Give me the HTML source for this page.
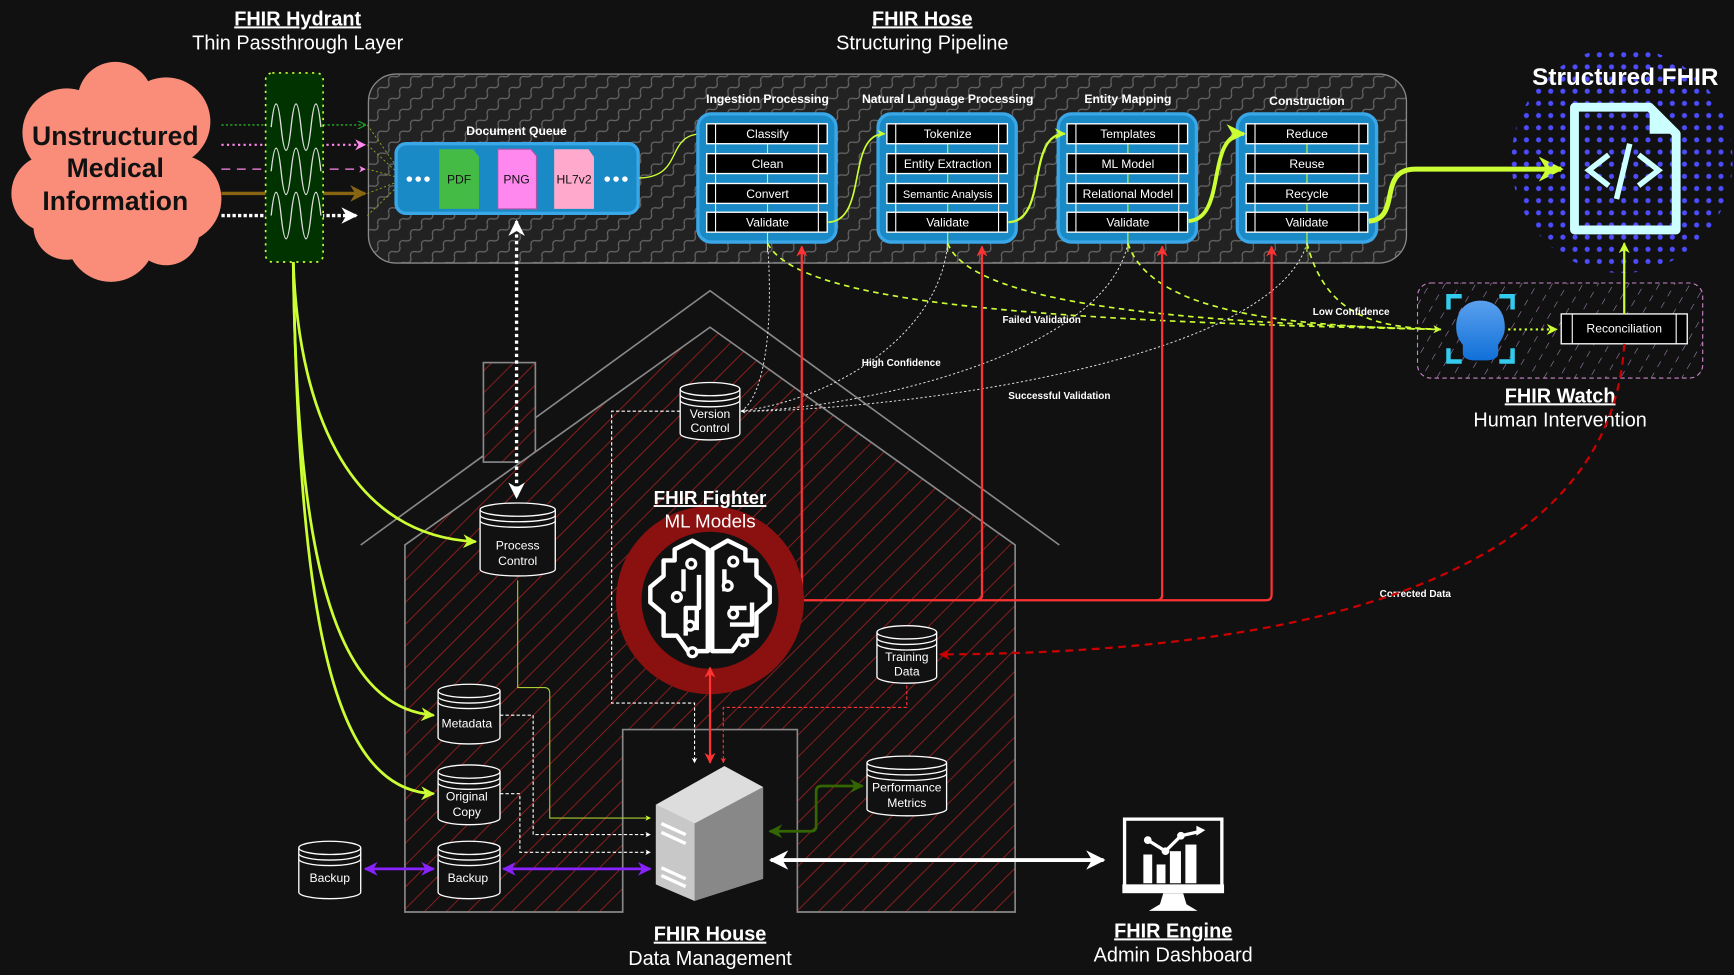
<!DOCTYPE html>
<html><head><meta charset="utf-8"><style>
html,body{margin:0;padding:0;background:#111;}
svg{display:block;}
text{font-family:"Liberation Sans",sans-serif;}
</style></head><body>
<svg width="1734" height="975" viewBox="0 0 1568 882" xmlns="http://www.w3.org/2000/svg">
<defs>
<pattern id="zig" width="14" height="14" patternUnits="userSpaceOnUse" patternTransform="rotate(-45)">
<rect width="14" height="14" fill="#222"/>
<path d="M0,7 q3.5,-5 7,0 t7,0" fill="none" stroke="#666" stroke-width="1.2"/>
</pattern>
<pattern id="hatch" width="14" height="14" patternUnits="userSpaceOnUse" patternTransform="rotate(45)">
<rect width="14" height="14" fill="#111"/>
<line x1="0" y1="0" x2="0" y2="14" stroke="#a02020" stroke-width="1.5"/>
</pattern>
<pattern id="hatchp" width="12" height="12" patternUnits="userSpaceOnUse" patternTransform="rotate(30)">
<rect width="12" height="12" fill="#111"/>
<line x1="0" y1="0" x2="0" y2="6" stroke="#aa88bb" stroke-width="1"/>
</pattern>
<pattern id="dots" width="11" height="11" patternUnits="userSpaceOnUse">
<circle cx="5.5" cy="5.5" r="2.3" fill="#4d4dff"/>
</pattern>
<linearGradient id="hg" x1="0" y1="0" x2="0" y2="1"><stop offset="0" stop-color="#5aa0ee"/><stop offset="1" stop-color="#1070d8"/></linearGradient>
<marker id="ag" viewBox="0 0 10 10" refX="9" refY="5" markerWidth="5" markerHeight="5" orient="auto-start-reverse"><path d="M0,0 L10,5 L0,10 L3,5Z" fill="#ccff33"/></marker>
<marker id="aw" viewBox="0 0 10 10" refX="9" refY="5" markerWidth="5" markerHeight="5" orient="auto-start-reverse"><path d="M0,0 L10,5 L0,10 L3,5Z" fill="#fff"/></marker>
<marker id="ar" viewBox="0 0 10 10" refX="9" refY="5" markerWidth="5" markerHeight="5" orient="auto-start-reverse"><path d="M0,0 L10,5 L0,10 L3,5Z" fill="#ff3333"/></marker>
<marker id="adr" viewBox="0 0 10 10" refX="9" refY="5" markerWidth="5" markerHeight="5" orient="auto-start-reverse"><path d="M0,0 L10,5 L0,10 L3,5Z" fill="#cc0000"/></marker>
<marker id="ap" viewBox="0 0 10 10" refX="9" refY="5" markerWidth="5" markerHeight="5" orient="auto-start-reverse"><path d="M0,0 L10,5 L0,10 L3,5Z" fill="#8822ff"/></marker>
<marker id="adg" viewBox="0 0 10 10" refX="9" refY="5" markerWidth="5" markerHeight="5" orient="auto-start-reverse"><path d="M0,0 L10,5 L0,10 L3,5Z" fill="#336600"/></marker>
<marker id="apk" viewBox="0 0 10 10" refX="9" refY="5" markerWidth="5" markerHeight="5" orient="auto"><path d="M0,0 L10,5 L0,10 L3,5Z" fill="#ff88ee"/></marker>
<marker id="abr" viewBox="0 0 10 10" refX="9" refY="5" markerWidth="5" markerHeight="5" orient="auto"><path d="M0,0 L10,5 L0,10 L3,5Z" fill="#886611"/></marker>
<marker id="agd" viewBox="0 0 10 10" refX="9" refY="5" markerWidth="5" markerHeight="5" orient="auto"><path d="M0,0 L10,5 L0,10" fill="none" stroke="#229922" stroke-width="1.5"/></marker>
</defs>
<rect width="1568" height="882" fill="#111"/>

<g fill="#fff" text-anchor="middle" font-size="18">
<text x="269" y="23" font-weight="bold" text-decoration="underline">FHIR Hydrant</text>
<text x="269" y="45">Thin Passthrough Layer</text>
<text x="834" y="23" font-weight="bold" text-decoration="underline">FHIR Hose</text>
<text x="834" y="45">Structuring Pipeline</text>
<text x="1411" y="364" font-weight="bold" text-decoration="underline">FHIR Watch</text>
<text x="1411" y="386">Human Intervention</text>
<text x="642" y="851" font-weight="bold" text-decoration="underline">FHIR House</text>
<text x="642" y="873">Data Management</text>
<text x="1061" y="848" font-weight="bold" text-decoration="underline">FHIR Engine</text>
<text x="1061" y="870">Admin Dashboard</text>
</g>

<g fill="#fa8d7a">
<circle cx="104" cy="90" r="34"/><circle cx="150" cy="110" r="40"/><circle cx="60" cy="120" r="40"/>
<circle cx="104" cy="155" r="70"/><circle cx="45" cy="175" r="35"/><circle cx="160" cy="180" r="40"/>
<circle cx="100" cy="215" r="40"/><circle cx="150" cy="210" r="30"/><circle cx="60" cy="205" r="30"/>
</g>
<g fill="#111" font-weight="bold" font-size="24" text-anchor="middle">
<text x="104" y="131">Unstructured</text><text x="104" y="160">Medical</text><text x="104" y="190">Information</text>
</g>

<rect x="333" y="67" width="939" height="171" rx="25" fill="url(#zig)" stroke="#888" stroke-width="1.2"/>

<line x1="200" y1="113" x2="330" y2="113" stroke="#229922" stroke-width="1.5" stroke-dasharray="2,2" marker-end="url(#agd)"/>
<line x1="200" y1="131" x2="330" y2="131" stroke="#ff88ee" stroke-width="2" stroke-dasharray="2,3" marker-end="url(#apk)"/>
<line x1="200" y1="153" x2="330" y2="153" stroke="#ff88ee" stroke-width="1.2" stroke-dasharray="8,6" marker-end="url(#apk)"/>
<line x1="200" y1="175" x2="330" y2="175" stroke="#886611" stroke-width="3" marker-end="url(#abr)"/>
<line x1="200" y1="195" x2="322" y2="195" stroke="#fff" stroke-width="3" stroke-dasharray="3,2" marker-end="url(#aw)"/>
<path d="M332,113 L358,150 M332,131 L358,155 M332,153 L358,160 M332,175 L358,165 M332,195 L358,170" stroke="#88aa22" stroke-width="0.8" stroke-dasharray="2,2" fill="none"/>

<rect x="240" y="66" width="52" height="171" rx="6" fill="#003300" stroke="#ccff33" stroke-width="1.5" stroke-dasharray="2,4"/>
<g fill="none" stroke="#ddd" stroke-width="1.2">
<path d="M245,115 q4.5,-42 9,0 t9,0 t9,0 t9,0 t9,0"/>
<path d="M245,155 q4.5,-42 9,0 t9,0 t9,0 t9,0 t9,0"/>
<path d="M245,195 q4.5,-42 9,0 t9,0 t9,0 t9,0 t9,0"/>
</g>

<text x="467" y="122" fill="#fff" font-size="11" font-weight="bold" text-anchor="middle">Document Queue</text>
<rect x="358" y="130" width="219" height="63" rx="9" fill="#1a8ac6" stroke="#3aa7e8" stroke-width="3"/>
<path d="M397,135 h31 l5,7 v47 h-36Z" fill="#44bb44"/>
<path d="M450,135 h30 l5,6 v48 h-35Z" fill="#ff88ee" stroke="#aa55aa"/>
<path d="M501,135 h31 l5,7 v47 h-36Z" fill="#ffaacc"/>
<g font-size="11" fill="#111" text-anchor="middle"><text x="415" y="166">PDF</text><text x="467" y="166">PNG</text><text x="519" y="166">HL7v2</text></g>
<g fill="#fff"><circle cx="370" cy="162" r="2.5"/><circle cx="378" cy="162" r="2.5"/><circle cx="386" cy="162" r="2.5"/>
<circle cx="549" cy="162" r="2.5"/><circle cx="557" cy="162" r="2.5"/><circle cx="565" cy="162" r="2.5"/></g>
<path d="M578,161 C620,160 600,120 637,121" stroke="#ccff33" stroke-width="1.2" fill="none" marker-end="url(#ag)"/>

<g font-size="11" font-weight="bold" fill="#fff" text-anchor="middle">
<text x="694" y="93">Ingestion Processing</text>
<text x="857" y="93">Natural Language Processing</text>
<text x="1020" y="93">Entity Mapping</text>
<text x="1182" y="95">Construction</text>
</g>
<g stroke-width="3">
<rect x="631" y="103" width="125" height="116" rx="12" fill="#1a8ac6" stroke="#3aa7e8"/>
<rect x="794" y="103" width="125" height="116" rx="12" fill="#1a8ac6" stroke="#3aa7e8"/>
<rect x="957" y="103" width="125" height="116" rx="12" fill="#1a8ac6" stroke="#3aa7e8"/>
<rect x="1119" y="103" width="126" height="116" rx="12" fill="#1a8ac6" stroke="#3aa7e8"/>
</g>
<g stroke="#ccff33" stroke-width="1">
<line x1="694" y1="130" x2="694" y2="228"/><line x1="857" y1="130" x2="857" y2="228"/><line x1="1020" y1="130" x2="1020" y2="228"/><line x1="1182" y1="130" x2="1182" y2="228"/>
</g>
<g fill="#000" stroke="#fff" stroke-width="1.2">
<rect x="639" y="112" width="109" height="18"/><rect x="639" y="139" width="109" height="18"/><rect x="639" y="166" width="109" height="18"/><rect x="639" y="192" width="109" height="18"/>
<rect x="802" y="112" width="109" height="18"/><rect x="802" y="139" width="109" height="18"/><rect x="802" y="166" width="109" height="18"/><rect x="802" y="192" width="109" height="18"/>
<rect x="965" y="112" width="109" height="18"/><rect x="965" y="139" width="109" height="18"/><rect x="965" y="166" width="109" height="18"/><rect x="965" y="192" width="109" height="18"/>
<rect x="1127" y="112" width="110" height="18"/><rect x="1127" y="139" width="110" height="18"/><rect x="1127" y="166" width="110" height="18"/><rect x="1127" y="192" width="110" height="18"/>
</g>
<g stroke="#fff" stroke-width="1">
<path d="M647,112v98M740,112v98M810,112v98M903,112v98M973,112v98M1066,112v98M1135,112v98M1229,112v98"/>
</g>
<g font-size="11" fill="#fff" text-anchor="middle">
<text x="694" y="125">Classify</text><text x="694" y="152">Clean</text><text x="694" y="179">Convert</text><text x="694" y="205">Validate</text>
<text x="857" y="125">Tokenize</text><text x="857" y="152">Entity Extraction</text><text x="857" y="179" font-size="10">Semantic Analysis</text><text x="857" y="205">Validate</text>
<text x="1020" y="125">Templates</text><text x="1020" y="152">ML Model</text><text x="1020" y="179">Relational Model</text><text x="1020" y="205">Validate</text>
<text x="1182" y="125">Reduce</text><text x="1182" y="152">Reuse</text><text x="1182" y="179">Recycle</text><text x="1182" y="205">Validate</text>
</g>
<g fill="none" stroke="#ccff33">
<path d="M749,201 C785,200 765,121 800,121" stroke-width="1.5" marker-end="url(#ag)"/>
<path d="M912,201 C948,200 928,121 963,121" stroke-width="2" marker-end="url(#ag)"/>
<path d="M1075,200 C1110,198 1090,121 1125,121" stroke-width="3.5" marker-end="url(#ag)"/>
<path d="M1238,200 C1268,198 1245,153 1280,153 L1412,153" stroke-width="4.5" marker-end="url(#ag)"/>
</g>

<ellipse cx="1467" cy="145" rx="100" ry="102" fill="url(#dots)"/>
<text x="1470" y="77" font-size="22" font-weight="bold" fill="#fff" text-anchor="middle">Structured FHIR</text>
<path d="M1424,97 h68 l24,24 v87 h-92Z" fill="none" stroke="#ccffff" stroke-width="8" stroke-linejoin="round"/>
<path d="M1492,97 v24 h24" fill="#ccffff"/>
<g stroke="#ccffff" stroke-width="5" fill="none"><path d="M1455,140 l-18,14 18,14"/><path d="M1482,140 l18,14 -18,14"/><path d="M1474,130 l-12,50"/></g>

<rect x="1282" y="256" width="258" height="86" rx="12" fill="url(#hatchp)" stroke="#cc88cc" stroke-width="1" stroke-dasharray="4,3"/>
<g stroke="#33ccee" stroke-width="4" fill="none">
<path d="M1310,280 v-12 h12 M1356,268 h12 v12 M1310,315 v12 h12 M1368,315 v12 h-12"/></g>
<path d="M1339,272 c14,0 22,10 22,24 c0,8 -4,12 -6,16 v8 c0,4 -6,6 -10,6 h-12 c-4,0 -10,-2 -10,-6 v-8 c-3,-4 -6,-8 -6,-16 c0,-14 8,-24 22,-24Z" fill="url(#hg)"/>
<line x1="1364" y1="298" x2="1408" y2="298" stroke="#ccff33" stroke-width="2" stroke-dasharray="2,3" marker-end="url(#ag)"/>
<rect x="1412" y="284" width="114" height="27" fill="#000" stroke="#fff" stroke-width="1.2"/>
<path d="M1422,284v27M1516,284v27" stroke="#fff"/>
<text x="1469" y="301" font-size="11" fill="#fff" text-anchor="middle">Reconciliation</text>
<line x1="1469" y1="284" x2="1469" y2="220" stroke="#ccff33" stroke-width="2" marker-end="url(#ag)"/>

<path d="M326,493 L642,263 L958,493" fill="none" stroke="#888" stroke-width="1.5"/>
<rect x="437" y="328" width="47" height="90" fill="url(#hatch)" stroke="#888" stroke-width="1.5"/>
<path d="M366,825 V493 L642,296 L918,493 V825 H721 V660 H563 V825Z" fill="url(#hatch)" stroke="#888" stroke-width="1.5"/>

<g fill="none" stroke="#ccff33" stroke-width="1.5" stroke-dasharray="5,4">
<path d="M694,220 C720,270 900,290 1303,298" marker-end="url(#ag)"/>
<path d="M857,220 C880,280 1100,292 1303,298"/>
<path d="M1020,220 C1040,280 1150,295 1303,298"/>
<path d="M1182,220 C1200,290 1250,296 1303,298"/>
</g>
<g fill="none" stroke="#ddd" stroke-width="0.9" stroke-dasharray="2,2">
<path d="M694,220 C700,300 690,360 670,372"/>
<path d="M857,220 C850,300 760,360 670,372"/>
<path d="M1020,220 C1000,320 780,370 670,372" marker-end="url(#aw)"/>
<path d="M1182,220 C1150,330 800,372 670,372"/>
</g>
<g font-size="9" font-weight="bold" fill="#fff" text-anchor="middle">
<text x="942" y="292">Failed Validation</text><text x="1222" y="285">Low Confidence</text>
<text x="815" y="331">High Confidence</text><text x="958" y="361">Successful Validation</text>
<text x="1280" y="540">Corrected Data</text>
</g>

<path d="M1469,311 C1460,470 1300,590 850,592" fill="none" stroke="#cc0000" stroke-width="2" stroke-dasharray="7,5" marker-end="url(#adr)"/>

<g fill="none" stroke="#ff3333" stroke-width="2">
<path d="M700,543 H1145 q5,0 5,-5 V223" marker-end="url(#ar)"/>
<path d="M720,543 q5,0 5,-5 V223" marker-end="url(#ar)"/>
<path d="M883,543 q5,0 5,-5 V223" marker-end="url(#ar)"/>
<path d="M1046,543 q5,0 5,-5 V223" marker-end="url(#ar)"/>
</g>

<circle cx="642" cy="543" r="85" fill="#8b1010"/>
<circle cx="642" cy="543" r="62" fill="#111"/>
<g fill="none" stroke="#fff" stroke-width="4" stroke-linejoin="round">
<path d="M640,497 l-14,-8 -16,8 v10 h-10 v14 l-12,10 v14 l12,10 v20 h12 l10,14 h18 V497Z"/>
<path d="M644,497 l14,-8 16,8 v10 h10 v14 l12,10 v14 l-12,10 v20 h-12 l-10,14 h-18 V497Z"/>
<path d="M618,515 v20 M632,520 v30 h-12 v25 M655,515 v20 M660,550 h15 M630,550 v20 M660,565 h20 v-20"/>
</g>
<g fill="#111" stroke="#fff" stroke-width="3">
<circle cx="625" cy="510" r="4"/><circle cx="612" cy="540" r="4"/><circle cx="624" cy="566" r="4"/><circle cx="626" cy="590" r="4"/>
<circle cx="663" cy="508" r="4"/><circle cx="658" cy="530" r="4"/><circle cx="663" cy="555" r="4"/><circle cx="672" cy="580" r="4"/>
</g>
<text x="642" y="456" font-size="17" font-weight="bold" fill="#fff" text-anchor="middle" text-decoration="underline">FHIR Fighter</text>
<text x="642" y="477" font-size="17" fill="#fff" text-anchor="middle">ML Models</text>

<line x1="467" y1="200" x2="467" y2="450" stroke="#fff" stroke-width="3" stroke-dasharray="3,3" marker-start="url(#aw)" marker-end="url(#aw)"/>
<g fill="none" stroke="#ccff33" stroke-width="2.5">
<path d="M265,237 C270,380 320,485 430,490" marker-end="url(#ag)"/>
<path d="M265,237 C268,500 300,640 392,647" marker-end="url(#ag)"/>
<path d="M265,237 C270,560 300,715 392,718" marker-end="url(#ag)"/>
</g>
<path d="M468,525 V622 H492 Q497,622 497,627 V740 H588" fill="none" stroke="#aacc33" stroke-width="1" marker-end="url(#ag)"/>
<g fill="none" stroke="#fff" stroke-width="1" stroke-dasharray="3,2">
<path d="M452,647 H482 V755 H588" marker-end="url(#aw)"/>
<path d="M452,718 H470 V771 H588" marker-end="url(#aw)"/>
<path d="M615,372 H553 V636 H628 V690" marker-end="url(#aw)"/>
</g>
<path d="M820,620 V640 H654 V690" fill="none" stroke="#ff3333" stroke-width="1" stroke-dasharray="3,2" marker-end="url(#ar)"/>
<line x1="642" y1="604" x2="642" y2="690" stroke="#ff3333" stroke-width="2" marker-start="url(#ar)" marker-end="url(#ar)"/>
<path d="M696,752 H733 q5,0 5,-5 V716 q0,-5 5,-5 H780" fill="none" stroke="#336600" stroke-width="2.5" marker-start="url(#adg)" marker-end="url(#adg)"/>
<line x1="330" y1="786" x2="392" y2="786" stroke="#8822ff" stroke-width="2.5" marker-start="url(#ap)" marker-end="url(#ap)"/>
<line x1="455" y1="786" x2="588" y2="786" stroke="#8822ff" stroke-width="2.5" marker-start="url(#ap)" marker-end="url(#ap)"/>
<line x1="697" y1="778" x2="998" y2="778" stroke="#fff" stroke-width="3.5" marker-start="url(#aw)" marker-end="url(#aw)"/>

<path d="M593,728 L655,693 L690,712 L690,795 L628,815 L593,800Z" fill="#999"/>
<path d="M593,728 L655,693 L690,712 L628,745Z" fill="#ddd"/>
<path d="M628,745 L690,712 L690,795 L628,815Z" fill="#888"/>
<path d="M593,728 L628,745 L628,815 L593,800Z" fill="#c8c8c8"/>
<g stroke="#fff" stroke-width="3"><path d="M598,745 l22,10 M598,753 l22,10 M598,785 l22,10 M598,792 l22,10"/></g>

<g fill="#111" stroke="#fff" stroke-width="1.2">
<path d="M615,352 a27,6 0 0 1 54,0 v40 a27,6 0 0 1 -54,0Z"/><path d="M615,352 a27,6 0 0 0 54,0 M615,357 a27,6 0 0 0 54,0 M615,362 a27,6 0 0 0 54,0" fill="none"/>
<path d="M434,461 a34,6 0 0 1 68,0 v54 a34,6 0 0 1 -68,0Z"/><path d="M434,461 a34,6 0 0 0 68,0 M434,466 a34,6 0 0 0 68,0 M434,471 a34,6 0 0 0 68,0" fill="none"/>
<path d="M396,625 a28,6 0 0 1 56,0 v42 a28,6 0 0 1 -56,0Z"/><path d="M396,625 a28,6 0 0 0 56,0 M396,630 a28,6 0 0 0 56,0 M396,635 a28,6 0 0 0 56,0" fill="none"/>
<path d="M396,698 a28,6 0 0 1 56,0 v42 a28,6 0 0 1 -56,0Z"/><path d="M396,698 a28,6 0 0 0 56,0 M396,703 a28,6 0 0 0 56,0 M396,708 a28,6 0 0 0 56,0" fill="none"/>
<path d="M396,767 a28,6 0 0 1 56,0 v40 a28,6 0 0 1 -56,0Z"/><path d="M396,767 a28,6 0 0 0 56,0 M396,772 a28,6 0 0 0 56,0 M396,777 a28,6 0 0 0 56,0" fill="none"/>
<path d="M270,767 a28,6 0 0 1 56,0 v40 a28,6 0 0 1 -56,0Z"/><path d="M270,767 a28,6 0 0 0 56,0 M270,772 a28,6 0 0 0 56,0 M270,777 a28,6 0 0 0 56,0" fill="none"/>
<path d="M793,572 a27,6 0 0 1 54,0 v40 a27,6 0 0 1 -54,0Z"/><path d="M793,572 a27,6 0 0 0 54,0 M793,577 a27,6 0 0 0 54,0 M793,582 a27,6 0 0 0 54,0" fill="none"/>
<path d="M784,690 a36,6 0 0 1 72,0 v42 a36,6 0 0 1 -72,0Z"/><path d="M784,690 a36,6 0 0 0 72,0 M784,695 a36,6 0 0 0 72,0 M784,700 a36,6 0 0 0 72,0" fill="none"/>
</g>
<g font-size="11" fill="#fff" text-anchor="middle">
<text x="642" y="378">Version</text><text x="642" y="391">Control</text>
<text x="468" y="497">Process</text><text x="468" y="511">Control</text>
<text x="422" y="658">Metadata</text>
<text x="422" y="724">Original</text><text x="422" y="738">Copy</text>
<text x="423" y="798">Backup</text><text x="298" y="798">Backup</text>
<text x="820" y="598">Training</text><text x="820" y="611">Data</text>
<text x="820" y="716">Performance</text><text x="820" y="730">Metrics</text>
</g>

<rect x="1017" y="741" width="88" height="61" fill="none" stroke="#fff" stroke-width="3"/>
<rect x="1015" y="800" width="92" height="8" fill="#fff"/>
<path d="M1052,808 h18 l3,10 l10,6 h-44 l10,-6Z" fill="#fff"/>
<g fill="#fff"><rect x="1034" y="773" width="8" height="26"/><rect x="1046" y="782" width="8" height="17"/><rect x="1058" y="770" width="10" height="29"/><rect x="1072" y="764" width="10" height="35"/></g>
<path d="M1038,760 l16,10 l14,-14 l18,-4" stroke="#fff" stroke-width="3" fill="none"/>
<path d="M1082,747 l8,4 -8,5Z" fill="#fff"/>
<circle cx="1038" cy="760" r="3.5" fill="#fff"/><circle cx="1054" cy="770" r="3.5" fill="#fff"/><circle cx="1068" cy="756" r="3.5" fill="#fff"/>
</svg>
</body></html>
